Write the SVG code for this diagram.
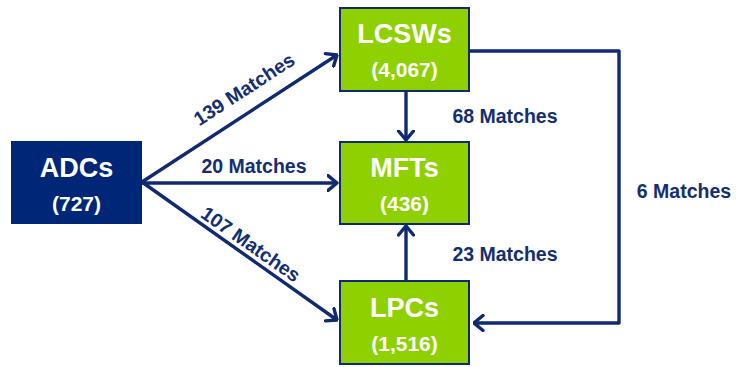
<svg xmlns="http://www.w3.org/2000/svg" width="738" height="367" viewBox="0 0 738 367">
  <style>
    .src { fill: #002677; }
    .grp { fill: #8fd100; stroke: #0f2a70; stroke-width: 2; }
    .name { font-family: "Liberation Sans", Arial, sans-serif; font-weight: bold; font-size: 27px; fill: #ffffff; text-anchor: middle; }
    .count { font-family: "Liberation Sans", Arial, sans-serif; font-weight: bold; font-size: 21px; fill: #ffffff; text-anchor: middle; }
    .edge { fill: none; stroke: #0f2a70; stroke-width: 3.4; stroke-linejoin: round; }
    .lbl { font-family: "Liberation Sans", Arial, sans-serif; font-weight: bold; font-size: 19.5px; fill: #142e72; text-anchor: middle; }
  </style>
  <defs>
    <marker id="arr" viewBox="0 0 12 18" refX="10.5" refY="9" markerWidth="12" markerHeight="18" markerUnits="userSpaceOnUse" orient="auto">
      <path d="M1.5,1.5 L10.5,9 L1.5,16.5" fill="none" stroke="#0f2a70" stroke-width="3.4" stroke-linecap="round" stroke-linejoin="round"/>
    </marker>
  </defs>

  <g id="connectors">
    <line class="edge" x1="142" y1="182" x2="337" y2="55" marker-end="url(#arr)"/>
    <line class="edge" x1="142" y1="183" x2="337" y2="183" marker-end="url(#arr)"/>
    <line class="edge" x1="142" y1="182" x2="337" y2="320" marker-end="url(#arr)"/>
    <line class="edge" x1="406" y1="91" x2="406" y2="140" marker-end="url(#arr)"/>
    <line class="edge" x1="406" y1="281" x2="406" y2="226" marker-end="url(#arr)"/>
    <polyline class="edge" points="469,51 619,51 619,323 474,323" marker-end="url(#arr)"/>

    <text class="lbl" transform="translate(244,89) rotate(-33)" y="7">139 Matches</text>
    <text class="lbl" x="254" y="173">20 Matches</text>
    <text class="lbl" transform="translate(251,244) rotate(35)" y="7">107 Matches</text>
    <text class="lbl" x="505" y="123">68 Matches</text>
    <text class="lbl" x="505" y="261">23 Matches</text>
    <text class="lbl" x="684" y="198">6 Matches</text>
  </g>

  <g id="adcs">
    <rect class="src" x="11" y="141" width="131" height="83"/>
    <text class="name" x="76.5" y="177">ADCs</text>
    <text class="count" x="76.5" y="211">(727)</text>
  </g>

  <g id="lcsws">
    <rect class="grp" x="340" y="8" width="129" height="83"/>
    <text class="name" x="404.5" y="43">LCSWs</text>
    <text class="count" x="404.5" y="77">(4,067)</text>
  </g>

  <g id="mfts">
    <rect class="grp" x="340" y="142" width="129" height="82"/>
    <text class="name" x="404.5" y="177">MFTs</text>
    <text class="count" x="404.5" y="211">(436)</text>
  </g>

  <g id="lpcs">
    <rect class="grp" x="340" y="281" width="129" height="83"/>
    <text class="name" x="404.5" y="317">LPCs</text>
    <text class="count" x="404.5" y="351">(1,516)</text>
  </g>
</svg>
